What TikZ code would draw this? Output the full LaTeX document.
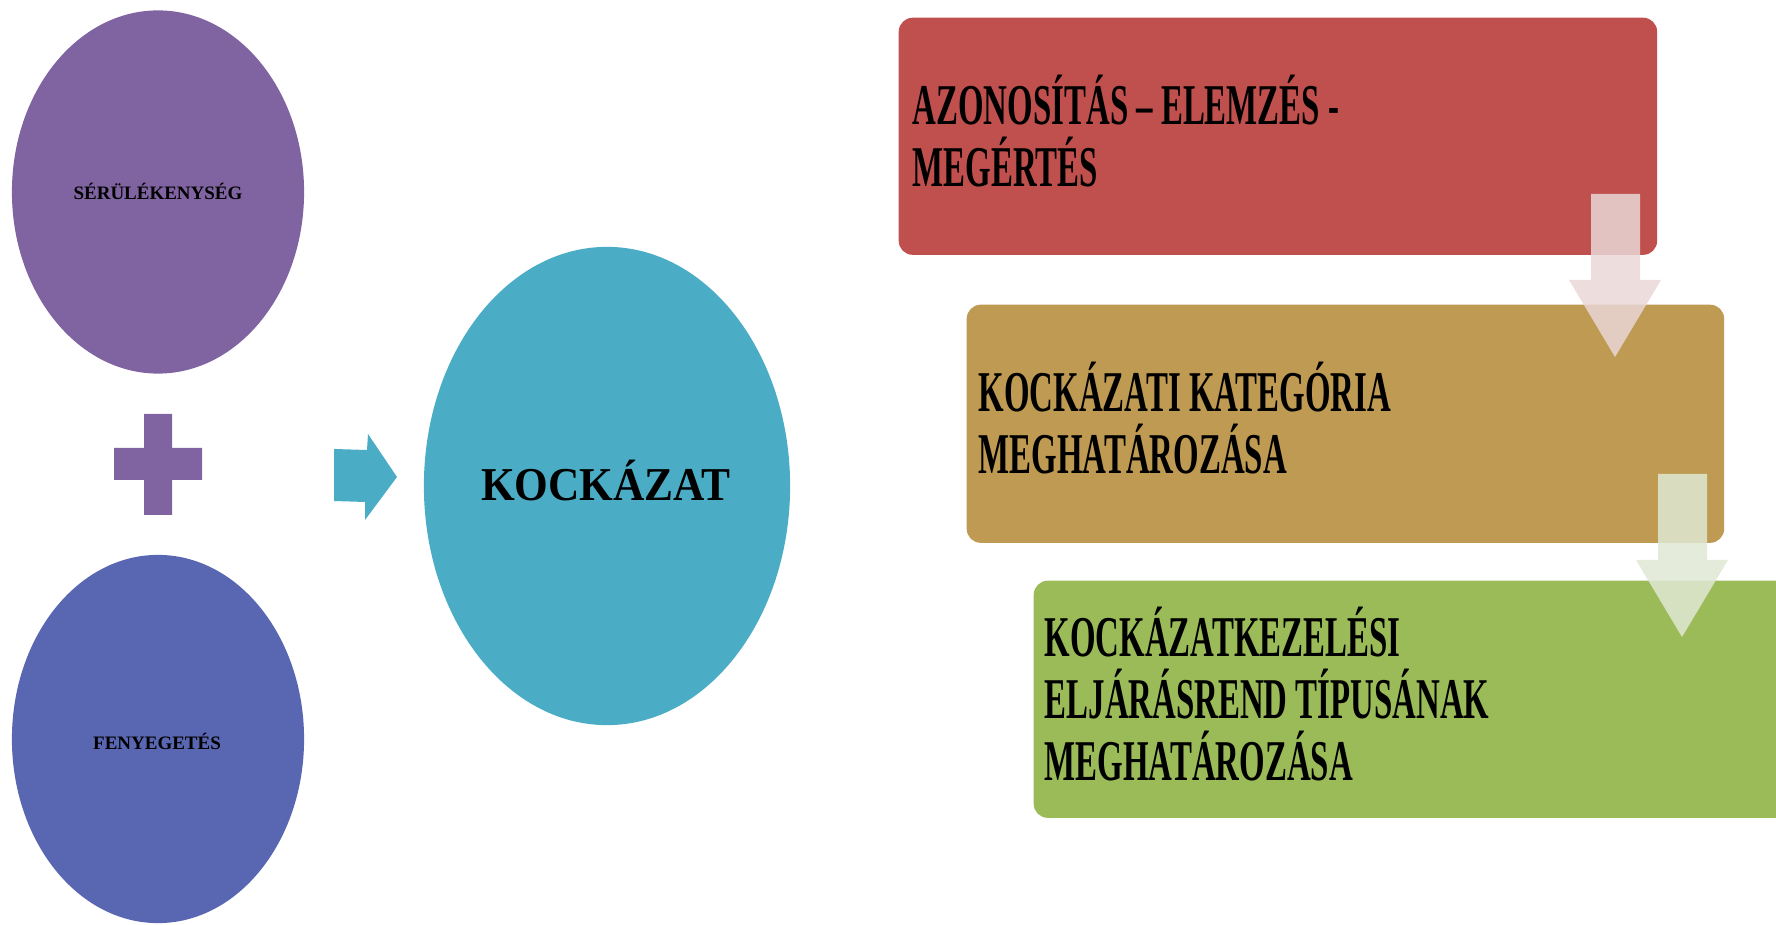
\documentclass[tikz,border=0pt]{standalone}
\usepackage{fontspec}
\setmainfont{Liberation Serif}
\newfontfamily\condfont{Liberation Serif}[FakeStretch=0.57]
\newfontfamily\midfont{Liberation Serif}[FakeStretch=0.92]
\usetikzlibrary{shapes.geometric}
\definecolor{cpurple}{HTML}{8064A2}
\definecolor{cblue}{HTML}{5966B1}
\definecolor{cteal}{HTML}{4BACC6}
\definecolor{cred}{HTML}{C0504D}
\definecolor{cgold}{HTML}{BE9A52}
\definecolor{cgreen}{HTML}{9BBB59}
\definecolor{arrpink}{HTML}{EAD7D7}
\definecolor{arrgreen}{HTML}{E0E8D4}
\tikzset{
  oval/.style={ellipse, inner sep=0pt, draw=none},
  smalltxt/.style={font=\fontsize{5.4pt}{6pt}\selectfont\bfseries, text=black},
  stepbox/.style={rectangle, rounded corners=0.14cm, draw=none, inner sep=0pt, anchor=north west},
  boxtxt/.style={font=\condfont\bfseries\fontsize{16.4pt}{17.6pt}\selectfont, align=left, anchor=west, inner sep=0pt, text=black},
  blockarrow/.style={draw=none, fill opacity=0.85}
}
\begin{document}
\begin{tikzpicture}[x=0.01cm, y=-0.01cm]
\useasboundingbox (0,0) rectangle (1776,925);
\clip (0,0) rectangle (1776,925);
% left ellipses
\node[oval, fill=cpurple, minimum width=2.92cm, minimum height=3.63cm] (vul) at (158,192) {};
\node[smalltxt] (vultxt) at (158,191) {SÉRÜLÉKENYSÉG};
\node[oval, fill=cblue, minimum width=2.92cm, minimum height=3.68cm] (thr) at (158,739) {};
\node[smalltxt] (thrtxt) at (157,741) {FENYEGETÉS};
% plus sign
\fill[cpurple] (144,414) -- (172,414) -- (172,448) -- (202,448) -- (202,480) -- (172,480)
  -- (172,515) -- (144,515) -- (144,480) -- (114,480) -- (114,448) -- (144,448) -- cycle;
% teal arrow
\fill[cteal] (334,449) -- (367,450) -- (368,434) -- (397,477) -- (365,520) -- (365,502) -- (334,501) -- cycle;
% risk ellipse
\node[oval, fill=cteal, minimum width=3.66cm, minimum height=4.78cm] (risk) at (607,486) {};
\node[font=\midfont\bfseries\fontsize{13.4pt}{15pt}\selectfont, text=black] (risktxt) at (606,481) {KOCKÁZAT};
% step boxes
\node[stepbox, fill=cred, minimum width=7.58cm, minimum height=2.37cm] (s1) at (898,17) {};
\node[stepbox, fill=cgold, minimum width=7.57cm, minimum height=2.38cm] (s2) at (966,304) {};
\node[stepbox, fill=cgreen, minimum width=7.80cm, minimum height=2.37cm] (s3) at (1033,580) {};
\node[boxtxt] (t1) at ([xshift=0.14cm, yshift=0.05cm]s1.west) {AZONOSÍTÁS – ELEMZÉS -\\MEGÉRTÉS};
\node[boxtxt] (t2) at ([xshift=0.12cm, yshift=0.06cm]s2.west) {KOCKÁZATI KATEGÓRIA\\MEGHATÁROZÁSA};
\node[boxtxt] (t3) at ([xshift=0.11cm, yshift=0.05cm]s3.west) {KOCKÁZATKEZELÉSI\\ELJÁRÁSREND TÍPUSÁNAK\\MEGHATÁROZÁSA};
% down arrows
\fill[blockarrow, arrpink] (1591,194) -- (1640,194) -- (1640,280) -- (1661,280) -- (1615,357)
  -- (1569,280) -- (1591,280) -- cycle;
\fill[blockarrow, arrgreen] (1658,474) -- (1707,474) -- (1707,560) -- (1728,560) -- (1682,637)
  -- (1636,560) -- (1658,560) -- cycle;
\end{tikzpicture}
\end{document}
